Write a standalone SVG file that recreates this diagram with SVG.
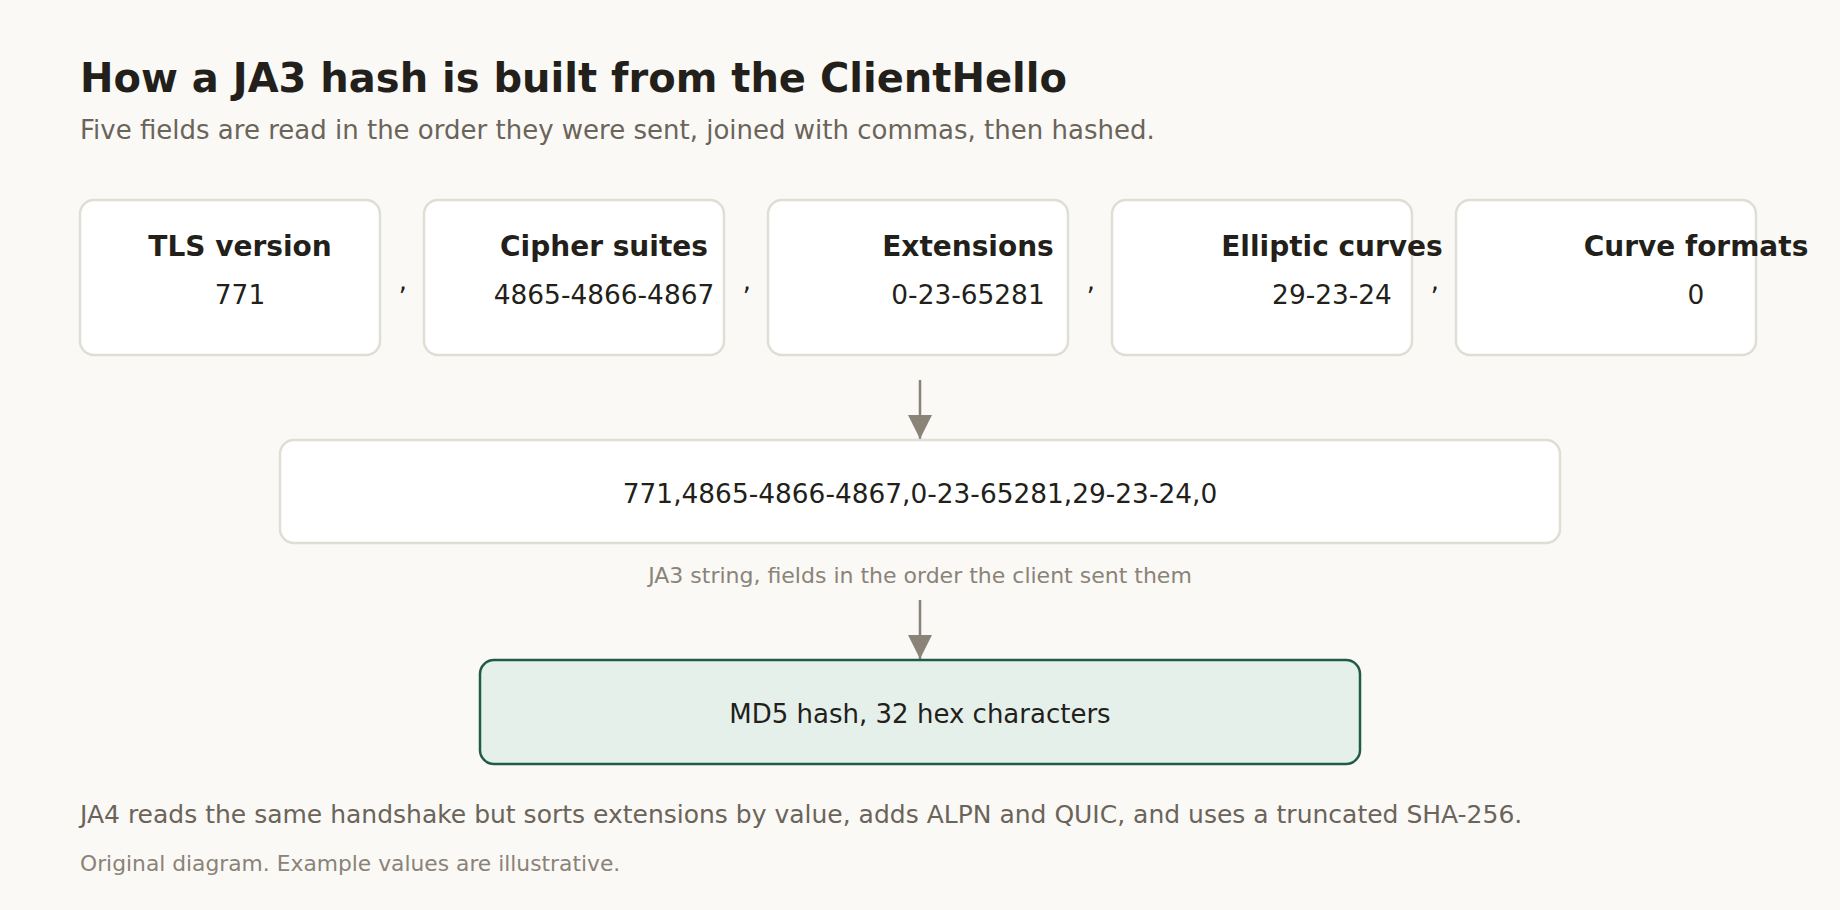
<svg xmlns="http://www.w3.org/2000/svg" width="1840" height="910" viewBox="0 0 1840 910">
  <defs>
    <style>
      .t { font-family: "DejaVu Sans", "Liberation Sans", sans-serif; }
      .title { font-size: 40px; font-weight: bold; fill: #231f1a; }
      .sub { font-size: 26px; fill: #6b645a; }
      .field { fill: #ffffff; stroke: #e0ddd5; stroke-width: 2.5; }
      .fname { font-size: 28px; font-weight: bold; fill: #231f1a; text-anchor: middle; }
      .fval { font-size: 26.4px; fill: #231f1a; text-anchor: middle; }
      .comma { font-size: 26px; fill: #231f1a; text-anchor: middle; }
      .cap { font-size: 22px; fill: #8a8378; }
      .conn { stroke: #8a8378; stroke-width: 2.5; fill: none; }
      .hash { fill: #e6f0eb; stroke: #1f5c47; stroke-width: 2.5; }
    </style>
    <marker id="arrow" markerUnits="userSpaceOnUse" markerWidth="24" markerHeight="24" viewBox="0 0 22 22" refX="22" refY="11" orient="auto">
      <path d="M0,0 L22,11 L0,22 z" fill="#8a8378"/>
    </marker>
  </defs>
  <rect x="0" y="0" width="1840" height="910" fill="#faf9f6"/>

  <text class="t title" x="80" y="92">How a JA3 hash is built from the ClientHello</text>
  <text class="t sub" x="80" y="139">Five fields are read in the order they were sent, joined with commas, then hashed.</text>

  <g id="field-tls-version">
    <rect class="field" x="80" y="200" width="300" height="155" rx="14"/>
    <text class="t fname" x="240" y="256">TLS version</text>
    <text class="t fval" x="240" y="304">771</text>
  </g>
  <g id="field-cipher-suites">
    <rect class="field" x="424" y="200" width="300" height="155" rx="14"/>
    <text class="t fname" x="604" y="256">Cipher suites</text>
    <text class="t fval" x="604" y="304">4865-4866-4867</text>
  </g>
  <g id="field-extensions">
    <rect class="field" x="768" y="200" width="300" height="155" rx="14"/>
    <text class="t fname" x="968" y="256">Extensions</text>
    <text class="t fval" x="968" y="304">0-23-65281</text>
  </g>
  <g id="field-elliptic-curves">
    <rect class="field" x="1112" y="200" width="300" height="155" rx="14"/>
    <text class="t fname" x="1332" y="256">Elliptic curves</text>
    <text class="t fval" x="1332" y="304">29-23-24</text>
  </g>
  <g id="field-curve-formats">
    <rect class="field" x="1456" y="200" width="300" height="155" rx="14"/>
    <text class="t fname" x="1696" y="256">Curve formats</text>
    <text class="t fval" x="1696" y="304">0</text>
  </g>

  <g id="commas">
    <text class="t comma" x="403" y="290">,</text>
    <text class="t comma" x="747" y="290">,</text>
    <text class="t comma" x="1091" y="290">,</text>
    <text class="t comma" x="1435" y="290">,</text>
  </g>

  <g id="connectors">
    <line class="conn" x1="920" y1="380" x2="920" y2="439" marker-end="url(#arrow)"/>
    <line class="conn" x1="920" y1="600" x2="920" y2="659" marker-end="url(#arrow)"/>
  </g>

  <g id="ja3-string">
    <rect class="field" x="280" y="440" width="1280" height="103" rx="14"/>
    <text class="t fval" x="920" y="503">771,4865-4866-4867,0-23-65281,29-23-24,0</text>
  </g>
  <text class="t cap" x="920" y="583" text-anchor="middle">JA3 string, fields in the order the client sent them</text>

  <g id="md5-hash">
    <rect class="hash" x="480" y="660" width="880" height="104" rx="14"/>
    <text class="t fval" x="920" y="723" style="font-size:26px">MD5 hash, 32 hex characters</text>
  </g>

  <text class="t sub" x="80" y="823" style="font-size:25px">JA4 reads the same handshake but sorts extensions by value, adds ALPN and QUIC, and uses a truncated SHA-256.</text>
  <text class="t cap" x="80" y="871" style="font-size:21.8px">Original diagram. Example values are illustrative.</text>
</svg>
